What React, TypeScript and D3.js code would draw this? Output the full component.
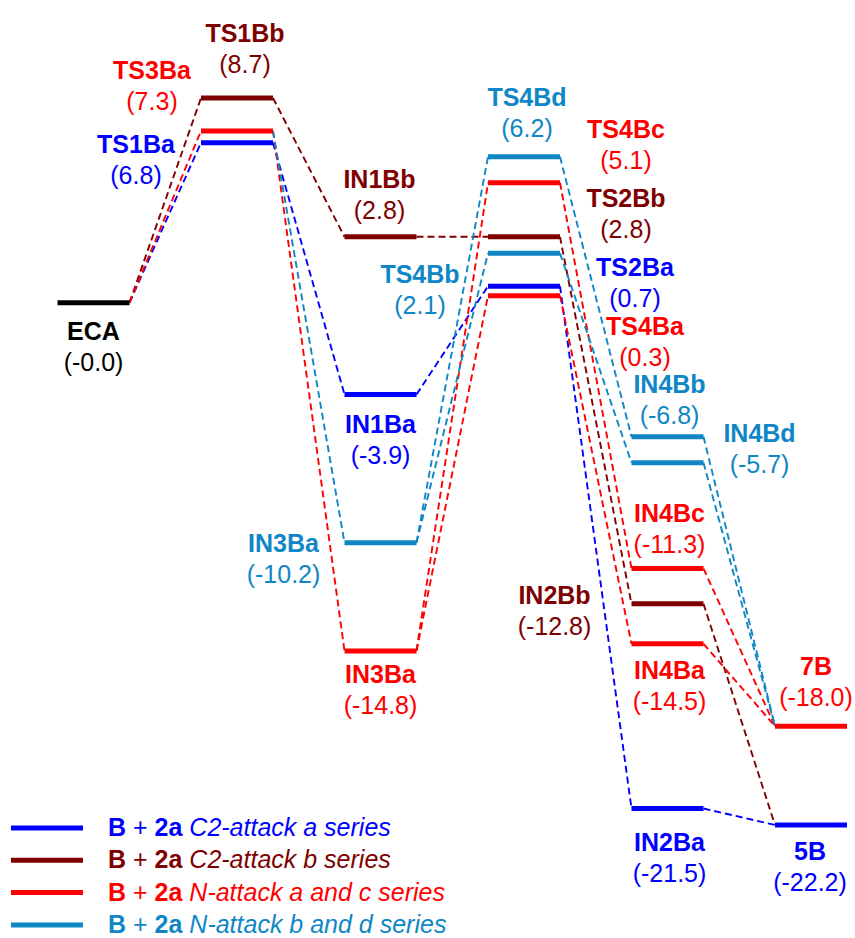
import React, { useRef, useEffect } from 'react';
import * as d3 from 'd3';

// states of the energy profile (id, shown name, energy in kcal/mol, step column, series)
const stateIds = ["ECA", "TS1Ba", "TS1Bb", "TS3Ba", "IN1Ba", "IN1Bb", "IN3Bb", "IN3Ba", "TS2Ba", "TS2Bb", "TS4Ba", "TS4Bb", "TS4Bc", "TS4Bd", "IN2Ba", "IN2Bb", "IN4Ba", "IN4Bb", "IN4Bc", "IN4Bd", "5B", "7B"];
const stateNames = ["ECA", "TS1Ba", "TS1Bb", "TS3Ba", "IN1Ba", "IN1Bb", "IN3Ba", "IN3Ba", "TS2Ba", "TS2Bb", "TS4Ba", "TS4Bb", "TS4Bc", "TS4Bd", "IN2Ba", "IN2Bb", "IN4Ba", "IN4Bb", "IN4Bc", "IN4Bd", "5B", "7B"];
const stateEnergies = [-0.0, 6.8, 8.7, 7.3, -3.9, 2.8, -10.2, -14.8, 0.7, 2.8, 0.3, 2.1, 5.1, 6.2, -21.5, -12.8, -14.5, -6.8, -11.3, -5.7, -22.2, -18.0];
const stateSteps = [0, 1, 1, 1, 2, 2, 2, 2, 3, 3, 3, 3, 3, 3, 4, 4, 4, 4, 4, 4, 5, 5];
const stateSeries = ["ref", "C2a", "C2b", "Nac", "C2a", "C2b", "Nbd", "Nac", "C2a", "C2b", "Nac", "Nbd", "Nac", "Nbd", "C2a", "C2b", "Nac", "Nbd", "Nac", "Nbd", "C2a", "Nac"];

// reaction paths
const pathsC2a = [["ECA", "TS1Ba", "IN1Ba", "TS2Ba", "IN2Ba", "5B"]];
const pathsC2b = [["ECA", "TS1Bb", "IN1Bb", "TS2Bb", "IN2Bb", "5B"]];
const pathsNac = [["ECA", "TS3Ba", "IN3Ba", "TS4Ba", "IN4Ba", "7B"], ["IN3Ba", "TS4Bc", "IN4Bc", "7B"]];
const pathsNbd = [["TS3Ba", "IN3Bb", "TS4Bb", "IN4Bb", "7B"], ["IN3Bb", "TS4Bd", "IN4Bd", "7B"]];

// legend
const legendKeys = ["C2a", "C2b", "Nac", "Nbd"];
const legendTexts = ["C2-attack a series", "C2-attack b series", "N-attack a and c series", "N-attack b and d series"];

const colors: Record<string, string> = {
    ref: "#000000",
    C2a: "#0000ff",
    C2b: "#7f0000",
    Nac: "#ff0000",
    Nbd: "#0f86c6",
};

// label placement: [dx from level centre, dy of name baseline from level]
const labelOffsets: Record<string, [number, number]> = {
    ECA: [0, 37.5], TS1Bb: [8, -56.5], TS3Ba: [-85, -51.5], TS1Ba: [-101, 10.5],
    IN1Bb: [-1, -49], IN1Ba: [0, 39], TS4Bb: [-104, 30], IN3Bb: [-97, 9], IN3Ba: [0, 32],
    TS4Bd: [3, -51], TS4Bc: [102, -45], TS2Bb: [102, -29.5], TS2Ba: [111, -10], TS4Ba: [121, 39],
    IN4Bb: [2, -70], IN4Bd: [92, 5], IN4Bc: [2, -47], IN2Bb: [-113, 0], IN4Ba: [2, 35],
    IN2Ba: [2, 42], "7B": [5, -51], "5B": [-1, 35],
};

const width = 855;
const height = 938;
const halfLevel = 36;
const font = "'Liberation Sans', Arial, sans-serif";

const fmt = (v: number) => (v < 0 || Object.is(v, -0) ? "-" + Math.abs(v).toFixed(1) : v.toFixed(1));

const EnergyProfile: React.FC = () => {
    const ref = useRef<SVGSVGElement>(null);

    useEffect(() => {
        if (!ref.current) return;
        const svg = d3.select(ref.current);
        svg.selectAll("*").remove();

        const x = d3.scaleLinear().domain([0, 5]).range([93.5, 811]);
        const y = d3.scaleLinear().domain([-22.2, 8.7]).range([825, 98]);

        const states = stateIds.map((id, i) => ({
            id,
            name: stateNames[i],
            energy: stateEnergies[i],
            step: stateSteps[i],
            series: stateSeries[i],
        }));
        const byId = new Map(states.map(s => [s.id, s]));

        const allPaths: { key: string; path: string[] }[] = [];
        ([["C2a", pathsC2a], ["C2b", pathsC2b], ["Nac", pathsNac], ["Nbd", pathsNbd]] as [string, string[][]][])
            .forEach(([key, paths]) => paths.forEach(path => allPaths.push({ key, path })));

        // dashed connectors
        const links: { key: string; a: typeof states[0]; b: typeof states[0] }[] = [];
        allPaths.forEach(({ key, path }) => {
            d3.pairs(path).forEach(([p, q]) => links.push({ key, a: byId.get(p)!, b: byId.get(q)! }));
        });

        svg.append("g")
            .selectAll("line")
            .data(links)
            .enter()
            .append("line")
            .attr("x1", d => x(d.a.step) + halfLevel)
            .attr("y1", d => y(d.a.energy))
            .attr("x2", d => x(d.b.step) - halfLevel)
            .attr("y2", d => y(d.b.energy))
            .attr("stroke", d => colors[d.key])
            .attr("stroke-width", 1.9)
            .attr("stroke-dasharray", "7,4");

        // energy levels
        svg.append("g")
            .selectAll("line")
            .data(states)
            .enter()
            .append("line")
            .attr("x1", d => x(d.step) - halfLevel)
            .attr("x2", d => x(d.step) + halfLevel)
            .attr("y1", d => y(d.energy))
            .attr("y2", d => y(d.energy))
            .attr("stroke", d => colors[d.series])
            .attr("stroke-width", 5);

        // labels
        const lab = svg.append("g")
            .attr("font-family", font)
            .attr("font-size", 25)
            .attr("text-anchor", "middle")
            .selectAll("g")
            .data(states)
            .enter()
            .append("g")
            .attr("transform", d => {
                const [dx, dy] = labelOffsets[d.id];
                return `translate(${x(d.step) + dx},${y(d.energy) + dy})`;
            })
            .attr("fill", d => colors[d.series]);
        lab.append("text").attr("font-weight", "bold").text(d => d.name);
        lab.append("text").attr("y", 31).text(d => `(${fmt(d.energy)})`);

        // legend
        const leg = svg.append("g")
            .attr("font-family", font)
            .attr("font-size", 25)
            .selectAll("g")
            .data(legendKeys)
            .enter()
            .append("g")
            .attr("transform", (d, i) => `translate(0,${828 + i * 32.3})`);
        leg.append("line")
            .attr("x1", 11).attr("x2", 83)
            .attr("stroke", d => colors[d])
            .attr("stroke-width", 5);
        const t = leg.append("text")
            .attr("x", 108)
            .attr("y", 8)
            .attr("fill", d => colors[d]);
        t.append("tspan").attr("font-weight", "bold").text("B");
        t.append("tspan").text(" + ");
        t.append("tspan").attr("font-weight", "bold").text("2a");
        t.append("tspan").attr("font-style", "italic").text((d, i) => " " + legendTexts[i]);
    }, []);

    return <svg ref={ref} width={width} height={height} style={{ position: 'absolute', left: 0, top: 0, background: '#fff' }}></svg>;
};

export default function App() {
    return <EnergyProfile />;
}
